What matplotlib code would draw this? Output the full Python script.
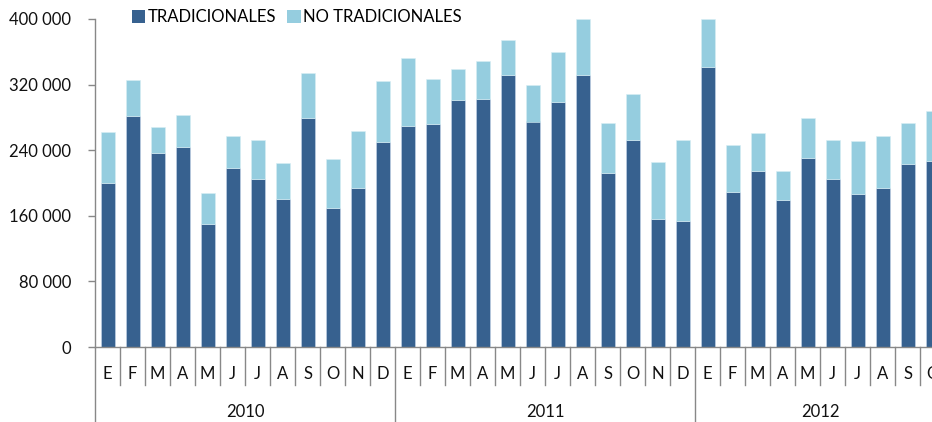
import matplotlib
matplotlib.use("Agg")
import matplotlib.pyplot as plt
import matplotlib.transforms as mtransforms
from matplotlib.ticker import FuncFormatter
from matplotlib.patches import Patch

plt.rcParams['font.family'] = ['Lato', 'DejaVu Sans']

years = ["2010", "2011", "2012"]
months_per_year = [12, 12, 10]
month_labels = ["E", "F", "M", "A", "M", "J", "J", "A", "S", "O", "N", "D"]

tradicionales = [
    200000, 282000, 237000, 244000, 150000, 218000, 205000, 180000, 279000, 170000, 194000, 250000,
    270000, 271500, 301000, 303000, 332000, 275000, 299000, 332000, 212500, 253000, 156000, 153500,
    341500, 188500, 214500, 179500, 231000, 205000, 187000, 194500, 223500, 227000,
]
no_tradicionales = [
    62000, 43000, 31000, 38500, 37500, 39000, 48000, 44000, 55000, 59000, 70000, 75000,
    82000, 55000, 38500, 46000, 42500, 44000, 61000, 68000, 60500, 55000, 69500, 99500,
    58500, 57500, 46000, 35000, 48000, 48000, 64000, 62500, 49500, 61000,
]
yticks = [0, 80000, 160000, 240000, 320000, 400000]

dark = "#37618F"
light = "#95CDDF"
axis_gray = "#888888"

W, H = 932, 422
fig = plt.figure(figsize=(W / 100, H / 100), dpi=100)
ax_left, ax_bottom, ax_top = 95, 347, 19
ax = fig.add_axes([ax_left / W, (H - ax_bottom) / H, 1 - ax_left / W, (ax_bottom - ax_top) / H])

n = len(tradicionales)
x = list(range(n))
bw = 0.56
ax.bar(x, tradicionales, width=bw, color=dark, edgecolor="#c8d8ea", linewidth=0.4, zorder=2)
ax.bar(x, no_tradicionales, width=bw, bottom=tradicionales, color=light,
       edgecolor="#d8eef5", linewidth=0.4, zorder=2)

ax.set_xlim(-0.5, -0.5 + (W - ax_left) / 25)
ax.set_ylim(0, 400000)
ax.set_yticks(yticks)
ax.yaxis.set_major_formatter(FuncFormatter(lambda v, p: f"{int(v):,}".replace(",", " ")))
ax.tick_params(axis='y', length=5, width=1, color=axis_gray, labelsize=12, pad=12, labelcolor="#111111")
ax.set_xticks([])

for s in ["top", "right"]:
    ax.spines[s].set_visible(False)
for s in ["left", "bottom"]:
    ax.spines[s].set_color(axis_gray)
    ax.spines[s].set_linewidth(1)

trans = mtransforms.blended_transform_factory(ax.transData, fig.transFigure)
month_sep_bottom = (H - 385) / H
axis_y = (H - ax_bottom) / H

# month separators and labels
idx = 0
year_starts = []
for yi, nm in enumerate(months_per_year):
    year_starts.append(idx)
    for m in range(nm):
        ax.text(idx, (H - 374) / H, month_labels[m], transform=trans, ha='center', va='center',
                fontsize=12, color="#111111", clip_on=False)
        idx += 1

for k in range(n + 1):
    xs = k - 0.5
    if k in year_starts:
        ax.plot([xs, xs], [axis_y, 0], transform=trans, color=axis_gray, lw=1, clip_on=False)
    else:
        ax.plot([xs, xs], [axis_y, month_sep_bottom], transform=trans, color=axis_gray, lw=1, clip_on=False)

for yi, nm in enumerate(months_per_year):
    start = year_starts[yi]
    center = start - 0.5 + nm / 2
    ax.text(center, (H - 412) / H, years[yi], transform=trans, ha='center', va='center',
            fontsize=12, color="#111111", clip_on=False)

handles = [Patch(facecolor=dark, label="TRADICIONALES"), Patch(facecolor=light, label="NO TRADICIONALES")]
fig.legend(handles=handles, loc='center left', bbox_to_anchor=(132 / W, (H - 17) / H), ncol=2,
           frameon=False, fontsize=12, handlelength=0.8, handleheight=0.8, handletextpad=0.15,
           columnspacing=0.65, borderaxespad=0, borderpad=0)

fig.savefig("out.png", dpi=100)
